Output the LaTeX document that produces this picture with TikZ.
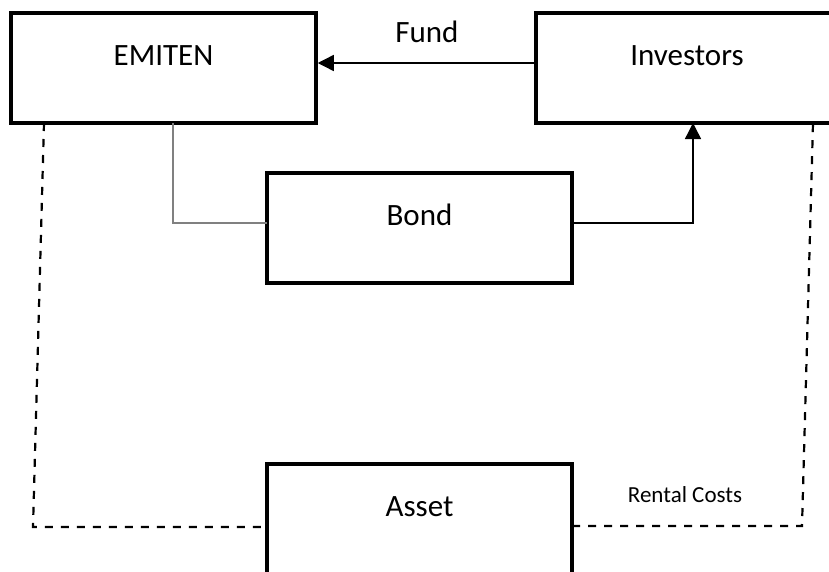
\documentclass[tikz,border=0pt]{standalone}
\usepackage{fontspec}
\setmainfont{Carlito}
\usetikzlibrary{arrows.meta,calc}
\begin{document}
\begin{tikzpicture}[x=1pt,y=-1pt,
  box/.style={draw=black,line width=3.5pt,rectangle,inner sep=0pt,
    font=\fontsize{31}{36}\selectfont,text height=20pt,text depth=26pt},
  conn/.style={line width=1.4pt,draw=black},
  grayconn/.style={line width=1.6pt,draw=black!50},
  dashconn/.style={line width=2.2pt,draw=black,dash pattern=on 8pt off 8pt},
  tip/.style={-{Triangle[length=16pt,width=16pt]}},
  lbl/.style={font=\fontsize{31}{36}\selectfont,inner sep=0pt},
  smalllbl/.style={font=\fontsize{23}{27}\selectfont,inner sep=0pt}]
\useasboundingbox (0,0) rectangle (829,571);
\clip (0,0) rectangle (829,571);
\node[box,minimum width=305pt,minimum height=110pt] (emiten) at (163.5,68) {EMITEN};
\node[box,minimum width=302pt,minimum height=110pt] (investors) at (687,68) {Investors};
\node[box,minimum width=305pt,minimum height=110pt] (bond) at (419.5,228) {Bond};
\node[box,minimum width=305pt,minimum height=110pt] (asset) at (419.5,519) {Asset};
% Fund arrow
\draw[conn,tip] (investors.west |- 0,63) -- (emiten.east |- 0,63);
\node[lbl] (fund) at (427,32) {Fund};
% EMITEN -> Bond
\coordinate (eb) at (173,123);
\coordinate (bl) at (267,223);
\draw[grayconn] (eb) |- (bl);
% Bond -> Investors
\coordinate (br) at (572,223);
\coordinate (ib) at (693,123);
\draw[conn,tip] (br) -| (ib);
% dashed lines
\coordinate (ed) at (44,123);
\coordinate (lc) at (33,527);
\coordinate (al) at (267,527);
\draw[dashconn] (ed) -- (lc) -- (al);
\coordinate (ar) at (572,526);
\coordinate (rc) at (802,526);
\coordinate (id) at (813,123);
\draw[dashconn] (ar) -- (rc) -- (id);
\node[smalllbl] (rent) at (685,495) {Rental Costs};
\end{tikzpicture}
\end{document}
